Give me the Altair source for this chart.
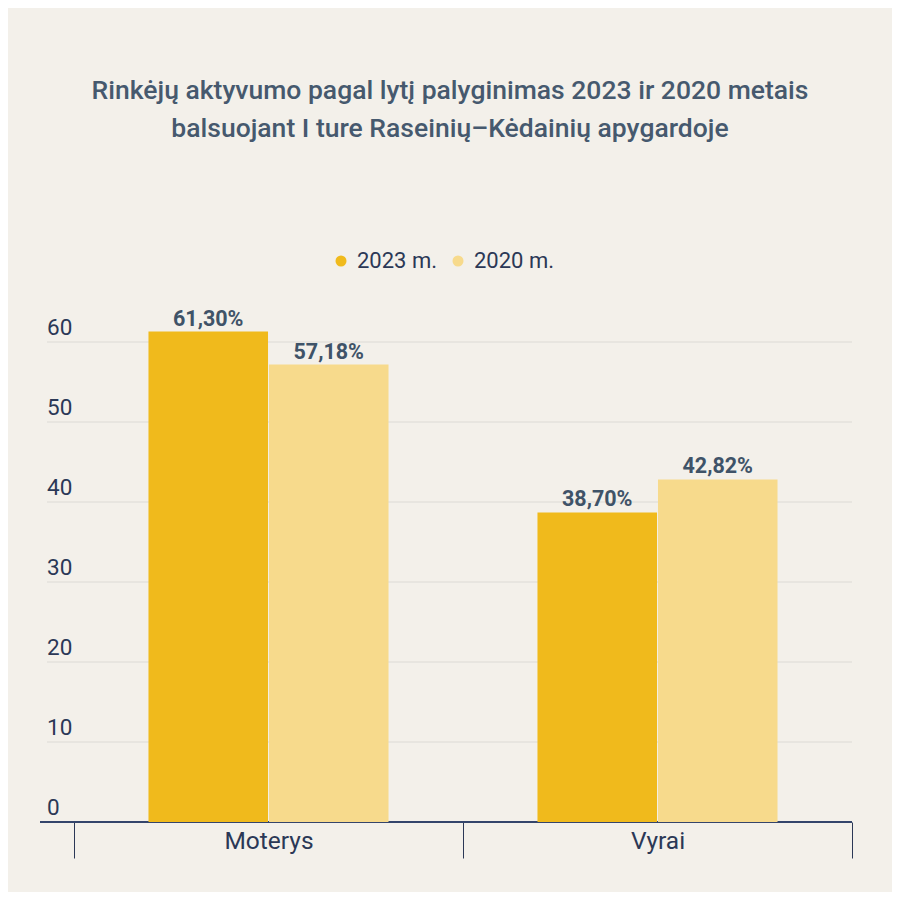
import altair as alt
import pandas as pd

categories = ["Moterys", "Vyrai"]
years = ["2023 m.", "2020 m."]
values_2023 = [61.30, 38.70]
values_2020 = [57.18, 42.82]
y_ticks = [0, 10, 20, 30, 40, 50, 60]
colors = ["#F0BA1C", "#F7DA8C"]

rows = []
for i, c in enumerate(categories):
    for yr, vals in zip(years, [values_2023, values_2020]):
        v = vals[i]
        rows.append({"cat": c, "year": yr, "value": v,
                     "label": f"{v:.2f}".replace(".", ",") + "%"})
df = pd.DataFrame(rows)
ticks_df = pd.DataFrame({"t": y_ticks})

W, H = 778, 480
FONT = "Roboto"
NAVY = "#2b3856"
yscale = alt.Scale(domain=[0, 60], nice=False, zero=True)

grid = alt.Chart(ticks_df).transform_filter("datum.t > 0").mark_rule(
    color="#dcdad5", strokeWidth=1
).encode(
    y=alt.Y("t:Q", scale=yscale, axis=None),
    x=alt.value(-27), x2=alt.value(W),
)

baseline = alt.Chart(ticks_df).transform_filter("datum.t == 0").mark_rule(
    color="#34456b", strokeWidth=2
).encode(
    y=alt.Y("t:Q", scale=yscale, axis=None),
    x=alt.value(-34), x2=alt.value(W),
)

tick_labels = alt.Chart(ticks_df).mark_text(
    align="left", baseline="alphabetic", dy=-7, fontSize=22.5, font=FONT, color=NAVY
).encode(
    y=alt.Y("t:Q", scale=yscale, axis=None),
    x=alt.value(-27),
    text=alt.Text("t:Q"),
)

xenc = alt.X(
    "cat:N", sort=categories, title=None,
    scale=alt.Scale(paddingInner=0, paddingOuter=0),
    axis=alt.Axis(domain=False, ticks=True, tickBand="extent", tickSize=36,
                  tickColor=NAVY, tickWidth=1, labelFontSize=24.5, labelFont=FONT,
                  labelColor=NAVY, labelPadding=-29, labelAngle=0, grid=False),
)
xoff = alt.XOffset("year:N", sort=years,
                   scale=alt.Scale(paddingInner=0.008, paddingOuter=0.618))

bars = alt.Chart(df).mark_bar().encode(
    x=xenc,
    xOffset=xoff,
    y=alt.Y("value:Q", scale=yscale, axis=None),
    color=alt.Color(
        "year:N", sort=years,
        scale=alt.Scale(domain=years, range=colors),
        legend=alt.Legend(orient="none", legendX=256, legendY=-92,
                          direction="horizontal", title=None, symbolType="circle",
                          symbolSize=121, symbolStrokeWidth=0, labelFontSize=22,
                          labelFont=FONT, labelColor=NAVY, columnPadding=9,
                          labelOffset=5, padding=0),
    ),
)

bar_labels = alt.Chart(df).mark_text(
    baseline="alphabetic", dy=-6, fontSize=21.5, fontWeight="bold", font=FONT,
    color="#3f5368"
).encode(
    x=alt.X("cat:N", sort=categories),
    xOffset=xoff,
    y=alt.Y("value:Q", scale=yscale, axis=None),
    text="label:N",
)

chart = alt.layer(grid, baseline, tick_labels, bars, bar_labels).properties(
    width=W, height=H,
    background="#F3F0EA",
    padding={"left": 66, "top": 334, "right": 40, "bottom": 70},
    autosize=alt.AutoSizeParams(type="none"),
    title=alt.TitleParams(
        text=["Rinkėjų aktyvumo pagal lytį palyginimas 2023 ir 2020 metais",
              "balsuojant I ture Raseinių–Kėdainių apygardoje"],
        fontSize=26.5, fontWeight=500, font=FONT, color="#46596e",
        anchor="middle", lineHeight=38, offset=108, dx=-13,
    ),
).configure_view(strokeWidth=0)

chart.save("out.html", embed_options={"renderer": "svg", "actions": False})
